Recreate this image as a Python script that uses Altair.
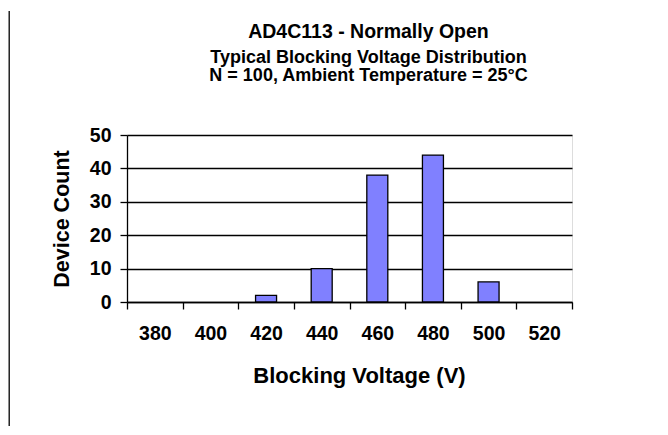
import altair as alt
import pandas as pd

# ---- data ----
voltages = [380, 400, 420, 440, 460, 480, 500, 520]
counts = [0, 0, 2, 10, 38, 44, 6, 0]
y_ticks = [0, 10, 20, 30, 40, 50]

title_text = "AD4C113 - Normally Open"
subtitle_lines = [
    "Typical Blocking Voltage Distribution",
    "N = 100, Ambient Temperature = 25°C",
]
x_title = "Blocking Voltage (V)"
y_title = "Device Count"

df = pd.DataFrame({"voltage": voltages, "count": counts})

FONT = "Liberation Sans"

bars = (
    alt.Chart(df)
    .transform_filter("datum.count > 0")
    .mark_bar(size=21, color="#8080FF", stroke="black", strokeWidth=1.3)
    .encode(
        x=alt.X(
            "voltage:O",
            scale=alt.Scale(domain=voltages, paddingInner=0, paddingOuter=0),
            axis=alt.Axis(
                title=x_title,
                labelAngle=0,
                tickBand="extent",
                ticks=True,
                tickSize=7,
                tickColor="black",
                tickWidth=1.3,
                domainColor="black",
                domainWidth=1.3,
                grid=False,
                labelPadding=15.6,
                labelFont=FONT,
                labelFontSize=19.5,
                labelFontWeight="bold",
                labelColor="black",
                titleFont=FONT,
                titleFontSize=22,
                titleFontWeight="bold",
                titleColor="black",
                titleBaseline="alphabetic",
                titleX=232,
                titleY=80,
            ),
        ),
        y=alt.Y(
            "count:Q",
            scale=alt.Scale(domain=[0, 50], nice=False),
            axis=alt.Axis(
                values=y_ticks,
                title=y_title,
                grid=True,
                gridColor="black",
                gridOpacity=1,
                gridWidth=1.3,
                tickSize=7,
                tickColor="black",
                tickWidth=1.3,
                domainColor="black",
                domainWidth=1.3,
                labelPadding=9,
                labelFont=FONT,
                labelFontSize=19.5,
                labelFontWeight="bold",
                labelColor="black",
                titleFont=FONT,
                titleFontSize=21.5,
                titleFontWeight="bold",
                titleColor="black",
                titleAngle=270,
                titleBaseline="alphabetic",
                titleX=-58.7,
            ),
        ),
    )
)

border = (
    alt.Chart(pd.DataFrame({"z": [0]}))
    .mark_rule(color="black", strokeWidth=1.3)
    .encode(x=alt.value(-117.8), y=alt.value(-124), y2=alt.value(300))
)

chart = (
    alt.layer(border, bars)
    .properties(
        width=445,
        height=167,
        padding={"left": 119, "top": 127, "right": 80, "bottom": 124},
        autosize=alt.AutoSizeParams(type="none"),
        title=alt.Title(
            text=title_text,
            subtitle=subtitle_lines,
            font=FONT,
            fontSize=19.5,
            fontWeight="bold",
            color="black",
            subtitleFont=FONT,
            subtitleFontSize=18,
            subtitleFontWeight="bold",
            subtitleColor="black",
            subtitleLineHeight=18.5,
            subtitlePadding=6,
            anchor="middle",
            dx=19,
            offset=-76,
        ),
    )
    .configure_view(stroke=None)
    .configure(background="white")
)

chart.save("out.html", embed_options={"renderer": "svg", "actions": False})
